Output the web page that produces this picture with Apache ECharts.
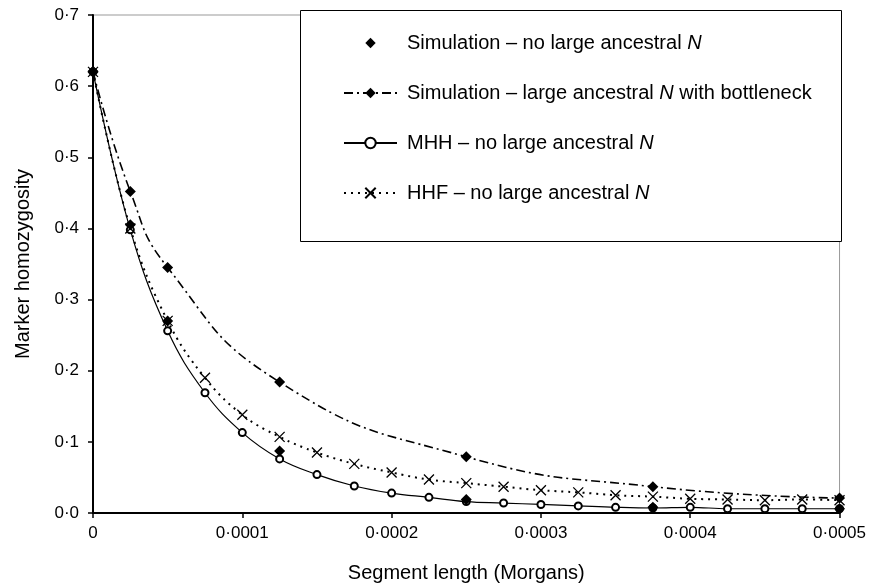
<!DOCTYPE html>
<html>
<head>
<meta charset="utf-8">
<script src="https://cdn.jsdelivr.net/npm/echarts@6/dist/echarts.min.js"></script>
<style>
  html, body { margin: 0; padding: 0; background: #fff; }
  #chart { width: 869px; height: 588px; }
</style>
</head>
<body>
<div id="chart"></div>
<script>
// segment lengths (Morgans)
var modelLength = [0, 0.000025, 0.00005, 0.000075, 0.0001, 0.000125, 0.00015, 0.000175, 0.0002, 0.000225,
  0.00025, 0.000275, 0.0003, 0.000325, 0.00035, 0.000375, 0.0004, 0.000425, 0.00045, 0.000475, 0.0005];
var simLength = [0, 0.000025, 0.00005, 0.000125, 0.00025, 0.000375, 0.0005];

var simNoAncestral = [0.62, 0.405, 0.27, 0.087, 0.019, 0.008, 0.006];
var simBottleneck = [0.621, 0.452, 0.345, 0.184, 0.079, 0.037, 0.021];
var mhh = [0.62, 0.398, 0.256, 0.169, 0.113, 0.076, 0.054, 0.038, 0.028, 0.022, 0.016,
  0.014, 0.012, 0.010, 0.008, 0.007, 0.008, 0.006, 0.006, 0.006, 0.006];
var hhf = [0.62, 0.400, 0.270, 0.190, 0.138, 0.107, 0.085, 0.069, 0.057, 0.047, 0.042,
  0.037, 0.032, 0.029, 0.025, 0.023, 0.020, 0.019, 0.018, 0.019, 0.018];

var seriesNames = [
  'Simulation – no large ancestral N',
  'Simulation – large ancestral N with bottleneck',
  'MHH – no large ancestral N',
  'HHF – no large ancestral N'
];

function pairs(xs, ys) {
  return xs.map(function (x, i) { return [x, ys[i]]; });
}

var font = 'Liberation Sans, Arial, Helvetica, sans-serif';
var crossPath = 'path://M0,0L10,10M10,0L0,10';

var chart = echarts.init(document.getElementById('chart'));
chart.setOption({
  animation: false,
  backgroundColor: '#fff',
  textStyle: { fontFamily: font, color: '#000' },
  grid: {
    left: 93, right: 27, top: 15, bottom: 75,
    show: true, borderColor: '#999', borderWidth: 1, backgroundColor: 'transparent'
  },
  xAxis: {
    type: 'value', min: 0, max: 0.0005, interval: 0.0001,
    name: 'Segment length (Morgans)', nameLocation: 'middle', nameGap: 50,
    nameTextStyle: { fontSize: 20, color: '#000' },
    axisLine: { lineStyle: { color: '#000', width: 2 } },
    axisTick: { show: true, length: 5, lineStyle: { color: '#000', width: 1.5 } },
    axisLabel: {
      fontSize: 17, color: '#000', margin: 12,
      formatter: function (v) { return v === 0 ? '0' : v.toFixed(4).replace('.', '·'); }
    },
    splitLine: { show: false }
  },
  yAxis: {
    type: 'value', min: 0, max: 0.7, interval: 0.1,
    name: 'Marker homozygosity', nameLocation: 'middle', nameGap: 60,
    nameTextStyle: { fontSize: 20, color: '#000' },
    axisLine: { show: true, lineStyle: { color: '#000', width: 2 } },
    axisTick: { show: true, length: 5, lineStyle: { color: '#000', width: 1.5 } },
    axisLabel: {
      fontSize: 17, color: '#000', margin: 14,
      formatter: function (v) { return v.toFixed(1).replace('.', '·'); }
    },
    splitLine: { show: false }
  },
  graphic: [{
    type: 'rect', z: 5,
    shape: { x: 300.5, y: 10.5, width: 541, height: 231 },
    style: { fill: '#fff', stroke: '#000', lineWidth: 1 }
  }],
  legend: {
    orient: 'vertical', left: 338, top: 28, z: 10,
    itemWidth: 53, itemHeight: 13, itemGap: 30,
    selectedMode: false,
    data: seriesNames,
    textStyle: {
      fontSize: 20, color: '#000', fontFamily: font, padding: [0, 0, 0, 5],
      rich: { i: { fontSize: 20, fontStyle: 'italic', fontFamily: font, color: '#000' } }
    },
    formatter: function (name) {
      return name.replace(/ N( |$)/, ' {i|N}$1');
    }
  },
  series: [
    {
      name: seriesNames[0], type: 'line',
      data: pairs(simLength, simNoAncestral),
      symbol: 'diamond', symbolSize: 11,
      itemStyle: { color: '#000' },
      lineStyle: { opacity: 0, width: 0 },
      z: 4
    },
    {
      name: seriesNames[1], type: 'line',
      data: pairs(simLength, simBottleneck),
      smooth: 0.5,
      symbol: 'diamond', symbolSize: 11,
      itemStyle: { color: '#000' },
      lineStyle: { color: '#000', width: 1.6, type: [9, 4, 2, 4] },
      z: 3
    },
    {
      name: seriesNames[2], type: 'line',
      data: pairs(modelLength, mhh),
      smooth: 0.4,
      symbol: 'emptyCircle', symbolSize: 7,
      itemStyle: { color: '#000', borderColor: '#000', borderWidth: 1 },
      lineStyle: { color: '#000', width: 1.2, type: 'solid' },
      z: 2
    },
    {
      name: seriesNames[3], type: 'line',
      data: pairs(modelLength, hhf),
      smooth: 0.4,
      symbol: crossPath, symbolSize: 10,
      itemStyle: { color: '#000', borderColor: '#000', borderWidth: 1.3 },
      lineStyle: { color: '#000', width: 2, type: [2, 5] },
      z: 2
    }
  ]
});
</script>
</body>
</html>
